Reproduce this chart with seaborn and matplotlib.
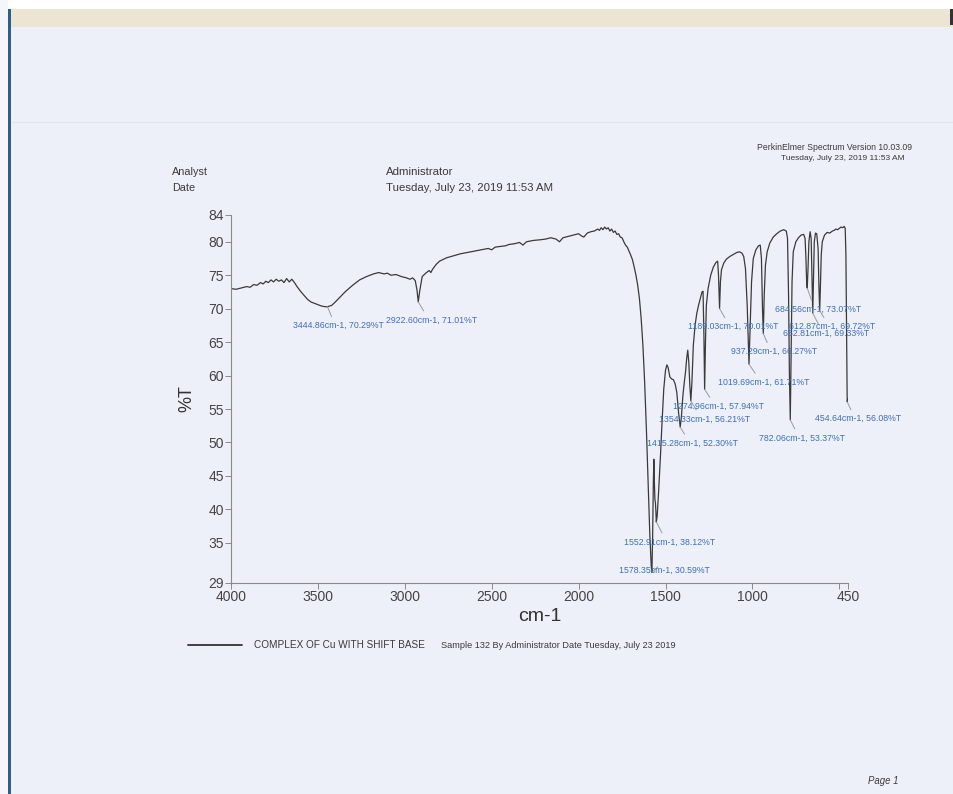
import matplotlib
matplotlib.use("Agg")
import matplotlib.pyplot as plt
from matplotlib.patches import Rectangle
from matplotlib.lines import Line2D
import pandas as pd
import seaborn as sns

# FT-IR spectrum of the Cu complex (wavenumber in cm-1, transmittance in %T)
wavenumber = [
    4000, 3970, 3940, 3910, 3890, 3870, 3850, 3830, 3815, 3800, 3785, 3770, 3755, 3740,
    3725, 3710, 3695, 3680, 3665, 3650, 3635, 3620, 3600, 3580, 3560, 3540, 3520, 3500,
    3480, 3460, 3444.86, 3420, 3400, 3370, 3340, 3300, 3260, 3220, 3180, 3150, 3120, 3100,
    3080, 3050, 3020, 2990, 2970, 2955, 2940, 2930, 2922.60, 2915, 2900, 2880, 2860, 2850,
    2840, 2820, 2800, 2760, 2720, 2680, 2640, 2600, 2560, 2520, 2500, 2480, 2450, 2420,
    2400, 2370, 2340, 2320, 2300, 2260, 2220, 2190, 2160, 2130, 2110, 2090, 2060, 2030,
    2000, 1985, 1970, 1950, 1930, 1910, 1890, 1880, 1870, 1860, 1850, 1840, 1830, 1820,
    1810, 1800, 1790, 1780, 1770, 1760, 1750, 1740, 1730, 1720, 1710, 1700, 1690, 1680,
    1670, 1660, 1650, 1640, 1630, 1620, 1610, 1600, 1590, 1582, 1578.35, 1574, 1570, 1567,
    1564, 1561, 1558, 1555, 1552.91, 1548, 1540, 1530, 1520, 1510, 1500, 1492, 1485, 1475,
    1465, 1455, 1445, 1435, 1425, 1415.28, 1408, 1400, 1392, 1385, 1378, 1372, 1366, 1360,
    1354.33, 1348, 1340, 1330, 1320, 1310, 1300, 1290, 1284, 1279, 1274.96, 1270, 1265, 1255,
    1240, 1225, 1210, 1200, 1195, 1189.03, 1184, 1178, 1165, 1150, 1130, 1110, 1090, 1075,
    1060, 1050, 1040, 1030, 1019.69, 1012, 1005, 995, 980, 965, 955, 948, 942, 937.29,
    932, 925, 915, 900, 880, 860, 840, 820, 805, 798, 792, 787, 782.06, 778,
    772, 765, 750, 735, 720, 705, 697, 692, 688, 684.56, 680, 675, 668, 662,
    657, 652.81, 649, 644, 637, 630, 622, 617, 612.87, 609, 604, 598, 585, 570,
    555, 540, 530, 520, 510, 500, 490, 480, 472, 466, 462, 458, 454.64, 450,
]
transmittance = [
    73.0, 72.9, 73.1, 73.3, 73.2, 73.6, 73.5, 73.9, 73.7, 74.1, 73.9, 74.3, 74.0, 74.4,
    74.1, 74.3, 73.9, 74.5, 74.0, 74.4, 73.9, 73.3, 72.6, 72.0, 71.4, 71.0, 70.8, 70.6,
    70.4, 70.3, 70.29, 70.5, 71.0, 71.8, 72.6, 73.5, 74.3, 74.8, 75.2, 75.4, 75.2, 75.3,
    75.0, 75.1, 74.8, 74.6, 74.4, 74.6, 74.2, 72.8, 71.01, 72.5, 74.8, 75.3, 75.7, 75.4,
    75.9, 76.6, 77.1, 77.6, 77.9, 78.2, 78.4, 78.6, 78.8, 79.0, 78.8, 79.2, 79.3, 79.4,
    79.6, 79.7, 79.9, 79.5, 80.0, 80.2, 80.3, 80.4, 80.6, 80.4, 80.0, 80.6, 80.8, 81.0,
    81.2, 80.9, 80.7, 81.3, 81.5, 81.6, 81.9, 81.7, 82.1, 81.8, 82.2, 81.9, 82.1, 81.6,
    81.9, 81.4, 81.6, 81.1, 81.2, 80.7, 80.6, 80.0, 79.5, 79.2, 78.6, 78.0, 77.3, 76.2,
    75.0, 73.5, 71.5, 68.5, 64.5, 59.0, 52.0, 44.0, 36.0, 31.5, 30.59, 36.0, 44.0, 47.5,
    44.0, 41.5, 41.0, 39.5, 38.12, 39.0, 42.5, 47.5, 53.0, 58.0, 60.8, 61.6, 61.2, 59.8,
    59.5, 59.4, 58.8, 57.5, 54.5, 52.30, 54.0, 57.0, 59.0, 60.5, 62.6, 63.8, 62.0, 58.5,
    56.21, 59.0, 64.5, 67.5, 69.3, 70.5, 71.5, 72.5, 72.6, 66.0, 57.94, 65.0, 70.5, 73.0,
    75.0, 76.2, 76.9, 77.1, 75.0, 70.01, 74.0, 75.8, 76.8, 77.4, 77.8, 78.1, 78.4, 78.5,
    78.3, 77.8, 76.0, 70.5, 61.71, 68.0, 74.0, 77.5, 78.8, 79.4, 79.5, 77.5, 70.0, 66.27,
    72.0, 76.5, 78.5, 79.8, 80.7, 81.2, 81.6, 81.8, 81.6, 80.5, 72.0, 60.0, 53.37, 62.0,
    74.0, 78.5, 80.0, 80.6, 81.0, 81.1, 80.5, 77.5, 74.0, 73.07, 76.0, 80.0, 81.5, 80.5,
    74.0, 69.33, 74.0, 80.0, 81.3, 81.2, 79.0, 73.0, 69.72, 73.0, 78.0, 80.0, 81.0, 81.4,
    81.3, 81.6, 81.7, 81.9, 81.8, 82.0, 82.2, 82.1, 82.3, 82.0, 78.0, 65.0, 56.08, 56.5,
]

# Labelled absorption peaks
peak_wavenumber = [3444.86, 2922.60, 1578.35, 1552.91, 1415.28, 1354.33, 1274.96,
                   1189.03, 1019.69, 937.29, 782.06, 684.56, 652.81, 612.87, 454.64]
peak_transmittance = [70.29, 71.01, 30.59, 38.12, 52.30, 56.21, 57.94,
                      70.01, 61.71, 66.27, 53.37, 73.07, 69.33, 69.72, 56.08]
# label placement relative to each peak (pixels right, pixels down)
label_offsets = [(-34, 19), (-32, 18), (-33, -2), (-32, 20), (-33, 16), (-32, 18), (-32, 17),
                 (-32, 18), (-31, 18), (-32, 18), (-31, 18), (-32, 21), (-30, 20), (-31, 16),
                 (-32, 17)]

x_ticks = [4000, 3500, 3000, 2500, 2000, 1500, 1000, 500, 450]
x_tick_labels = ["4000", "3500", "3000", "2500", "2000", "1500", "1000", "", "450"]
y_ticks = [29, 35, 40, 45, 50, 55, 60, 65, 70, 75, 80, 84]

sns.set_theme(style="white")
plt.rcParams["font.family"] = ["Liberation Sans", "DejaVu Sans"]

W, H = 954, 794
paper = "#eef0f9"
fig = plt.figure(figsize=(W / 100, H / 100), dpi=100, facecolor=paper)

# scanned page edges
fig.patches.append(Rectangle((0, 1 - 9 / H), 1, 9 / H, transform=fig.transFigure,
                             facecolor="white", edgecolor="none", zorder=0))
fig.patches.append(Rectangle((0, 0), 8 / W, 1, transform=fig.transFigure,
                             facecolor="#f4f6fb", edgecolor="none", zorder=0))
fig.patches.append(Rectangle((11 / W, 1 - 27 / H), 1, 18 / H, transform=fig.transFigure,
                             facecolor="#ede5d3", edgecolor="none", zorder=0))
fig.patches.append(Rectangle((8 / W, 0), 3 / W, 1 - 9 / H, transform=fig.transFigure,
                             facecolor="#2f5f86", edgecolor="none", zorder=1))
fig.patches.append(Rectangle((950 / W, 1 - 25 / H), 4 / W, 16 / H, transform=fig.transFigure,
                             facecolor="#333333", edgecolor="none", zorder=1))
fig.lines.append(Line2D([11 / W, 1], [1 - 122 / H, 1 - 122 / H], transform=fig.transFigure,
                        color="#e2e4ee", lw=0.8))

ax = fig.add_axes([231 / W, 1 - 583 / H, (848 - 231) / W, (583 - 215) / H])
ax.set_facecolor("none")

df = pd.DataFrame({"cm-1": wavenumber, "%T": transmittance})
sns.lineplot(data=df, x="cm-1", y="%T", ax=ax, color="#3a3a3a", lw=0.9,
             sort=False, estimator=None)

ax.set_xlim(4000, 450)
ax.set_ylim(29, 84)
ax.set_xticks(x_ticks)
ax.set_xticklabels(x_tick_labels)
ax.set_yticks(y_ticks)
for side in ("top", "right"):
    ax.spines[side].set_visible(False)
for side in ("left", "bottom"):
    ax.spines[side].set_color("#8a8a8a")
    ax.spines[side].set_linewidth(0.8)
ax.tick_params(direction="out", length=4, width=0.7, color="#8a8a8a",
               labelcolor="#444444", labelsize=10, pad=1, left=True, bottom=True)
ax.set_xlabel("cm-1", fontsize=14, color="#333333")
ax.set_ylabel("%T", fontsize=13, color="#333333")
ax.xaxis.set_label_coords(0.5, -0.068)
ax.yaxis.set_label_coords(-0.058, 0.5)

for wn, t, (dx, dy) in zip(peak_wavenumber, peak_transmittance, label_offsets):
    ax.annotate(f"{wn:.2f}cm-1, {t:.2f}%T", xy=(wn, t), xytext=(dx, -dy),
                textcoords="offset pixels", ha="left", va="center", fontsize=6.3,
                color="#3d6fb6",
                arrowprops=dict(arrowstyle="-", color="#9a9a9a", lw=0.7,
                                shrinkA=1, shrinkB=0, relpos=(0.44, 1.0)))

# page header
def ftext(x, y, s, **kw):
    fig.text(x / W, 1 - y / H, s, va="center", color="#3a3a3a", **kw)

ftext(172, 172, "Analyst", fontsize=7.8)
ftext(172, 188, "Date", fontsize=7.8)
ftext(386, 172, "Administrator", fontsize=8.2)
ftext(386, 188, "Tuesday, July 23, 2019 11:53 AM", fontsize=8.2)
ftext(912, 148, "PerkinElmer Spectrum Version 10.03.09", fontsize=6.2, ha="right")
ftext(905, 158, "Tuesday, July 23, 2019 11:53 AM", fontsize=6.0, ha="right")

# legend row
fig.lines.append(Line2D([188 / W, 242 / W], [1 - 645 / H, 1 - 645 / H],
                        transform=fig.transFigure, color="#333333", lw=1.3))
ftext(254, 645, "COMPLEX OF Cu WITH SHIFT BASE", fontsize=7.2)
ftext(441, 645, "Sample 132 By Administrator Date Tuesday, July 23 2019", fontsize=6.6)

ftext(868, 781, "Page 1", fontsize=6.9, style="italic")

fig.savefig("out.png", dpi=100, facecolor=paper)
